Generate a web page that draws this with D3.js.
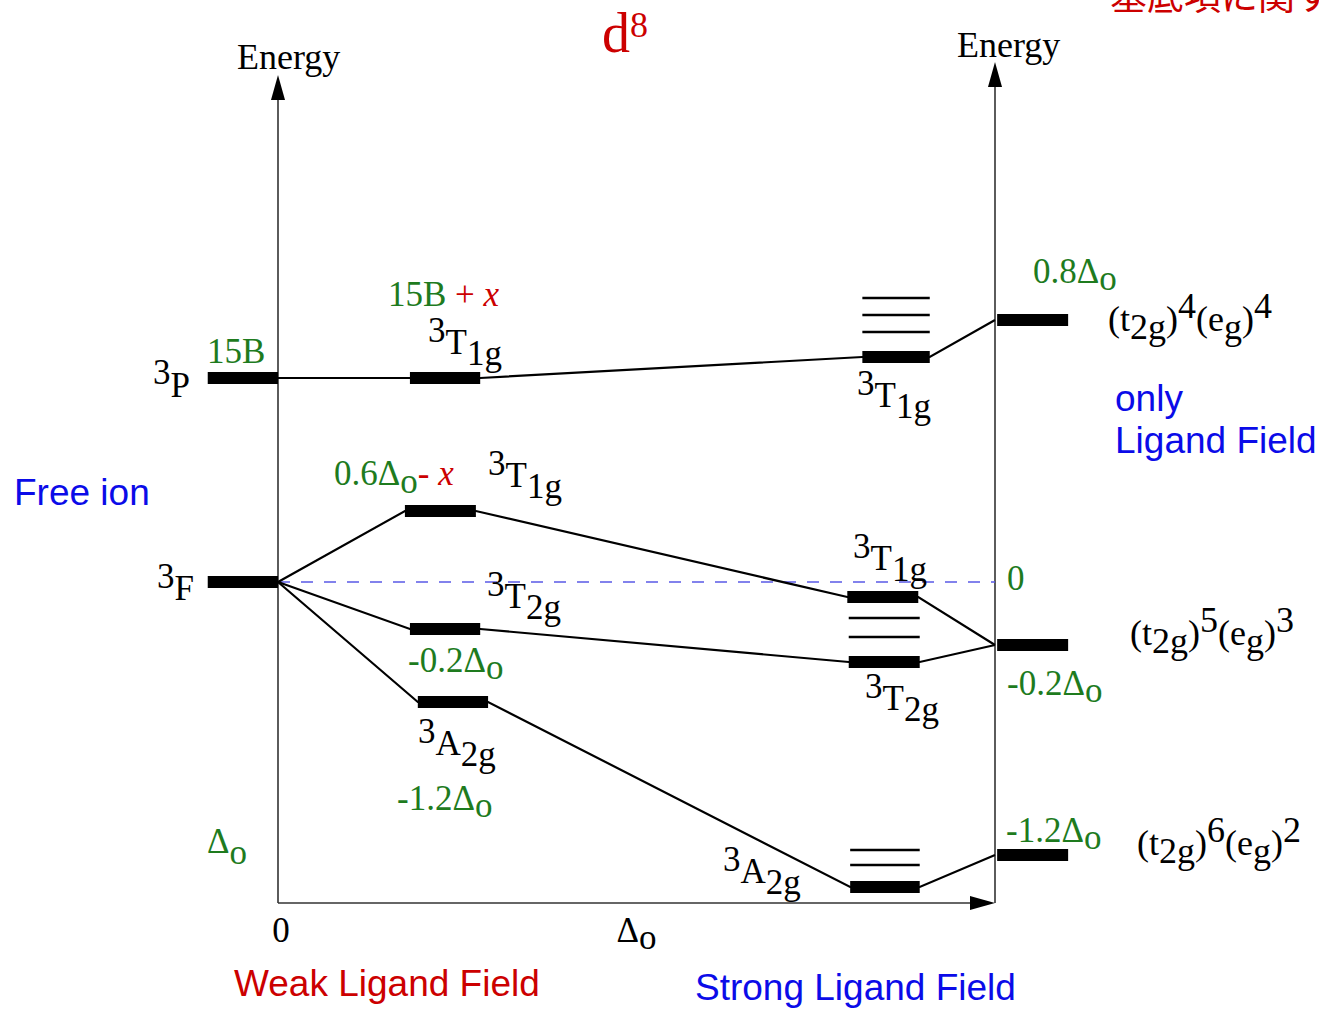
<!DOCTYPE html>
<html>
<head>
<meta charset="utf-8">
<script src="https://cdn.jsdelivr.net/npm/d3@7"></script>
<style>
  html, body { margin: 0; padding: 0; background: #fff; overflow: hidden; }
  svg { display: block; }
</style>
</head>
<body>
<svg id="chart" width="1319" height="1009"></svg>
<script>
// free ion terms (energy in diagram units, 3F = 0)
const freeTerms = ["^{3}P", "^{3}F"];
const freeEnergy = [2.04, 0];

// weak field states
const weakStates = ["^{3}T_{1g}", "^{3}T_{1g}", "^{3}T_{2g}", "^{3}A_{2g}"];
const weakEnergy = [2.04, 0.71, -0.47, -1.20];
const weakParent = [0, 1, 1, 1];

// strong field states
const strongEnergy = [2.25, -0.15, -0.80, -3.05];
const strongConfig = [0, 1, 1, 2];

// other strong field levels (thin lines), and the state they sit by
const extraEnergy = [2.84, 2.67, 2.50, -0.36, -0.55, -2.68, -2.83];
const extraGroup = [0, 0, 0, 2, 2, 3, 3];

// strong field configurations
const configs = ["(t_{2g})^{4}(e_{g})^{4}", "(t_{2g})^{5}(e_{g})^{3}", "(t_{2g})^{6}(e_{g})^{2}"];
const configEnergy = [2.62, -0.63, -2.73];
const configSplit = ["0.8Δ_{o}", "-0.2Δ_{o}", "-1.2Δ_{o}"];

// bottom axis ticks
const tickLabels = ["0", "Δ_{o}"];
const tickValues = [0, 0.5];

// ---- layout ----
const svg = d3.select("#chart");
const x = d3.scaleLinear().domain([0, 1]).range([278, 995]);
const y = d3.scaleLinear().domain([-3.21, 5.07]).range([903, 75]);

const serif = "'Liberation Serif','Times New Roman',serif";
const sans = "'Liberation Sans',Arial,sans-serif";
const green = "#1e7b1e", red = "#cc0000", blue = "#0b0be8";

// bar spans in field units
const freeSpan = [-0.098, 0];
const weakSpan = [[0.184, 0.282], [0.177, 0.276], [0.184, 0.282], [0.195, 0.293]];
const strongSpan = [[0.815, 0.909], [0.794, 0.893], [0.796, 0.895], [0.798, 0.895]];
const configSpan = [1.003, 1.102];

// text with ^{sup} and _{sub} parts
function rich(px, py, str, opt) {
  opt = opt || {};
  const size = opt.size || 35;
  const t = svg.append("text")
    .attr("x", px).attr("y", py)
    .style("font-family", opt.font || serif)
    .style("font-size", size + "px")
    .attr("fill", opt.color || "#000");
  if (opt.anchor) t.attr("text-anchor", opt.anchor);
  const tokens = str.match(/\^\{[^}]*\}|_\{[^}]*\}|[^^_]+/g);
  let off = 0;
  tokens.forEach(tok => {
    let target = 0, txt = tok, small = false;
    if (tok[0] === "^") { target = -(opt.sup || 12); txt = tok.slice(2, -1); small = true; }
    if (tok[0] === "_") { target = (opt.sub || 10); txt = tok.slice(2, -1); small = true; }
    const ts = t.append("tspan").attr("dy", target - off).text(txt);
    if (small && opt.small) ts.style("font-size", opt.small + "px");
    off = target;
  });
  return t;
}

function plain(px, py, str, color) {
  return svg.append("text").attr("x", px).attr("y", py)
    .style("font-family", sans).style("font-size", "37px")
    .attr("fill", color).text(str);
}

// ---- axes ----
const axisColor = "#333";
svg.append("line")
  .attr("x1", x(0)).attr("x2", x(0)).attr("y1", y(-3.21)).attr("y2", y(4.9))
  .attr("stroke", axisColor).attr("stroke-width", 1.6);
svg.append("line")
  .attr("x1", x(1)).attr("x2", x(1)).attr("y1", y(-3.21)).attr("y2", y(5.05))
  .attr("stroke", axisColor).attr("stroke-width", 1.6);
svg.append("line")
  .attr("x1", x(0)).attr("x2", x(0.98)).attr("y1", y(-3.21)).attr("y2", y(-3.21))
  .attr("stroke", axisColor).attr("stroke-width", 1.6);

function arrow(tx, ty, dir) {
  // dir: "up" or "right"
  const p = dir === "up"
    ? [[tx, ty], [tx - 7, ty + 25], [tx + 7, ty + 25]]
    : [[tx, ty], [tx - 25, ty - 7], [tx - 25, ty + 7]];
  svg.append("path").attr("d", "M" + p.join("L") + "Z").attr("fill", "#000");
}
arrow(x(0), y(5.07), "up");
arrow(x(1), y(5.2), "up");
arrow(x(1), y(-3.21), "right");

// zero energy reference
svg.append("line")
  .attr("x1", x(0)).attr("x2", x(1)).attr("y1", y(0)).attr("y2", y(0))
  .attr("stroke", "#5a5ae6").attr("stroke-width", 1.5)
  .attr("stroke-dasharray", "12,11");

// ---- correlation lines ----
const lineG = svg.append("g").attr("stroke", "#000").attr("stroke-width", 2.2).attr("fill", "none");
weakEnergy.forEach((e, i) => {
  const pts = [
    [x(freeSpan[1]), y(freeEnergy[weakParent[i]])],
    [x(weakSpan[i][0]), y(e)],
    [x(weakSpan[i][1]), y(e)],
    [x(strongSpan[i][0]), y(strongEnergy[i])],
    [x(strongSpan[i][1]), y(strongEnergy[i])],
    [x(1), y(configEnergy[strongConfig[i]])]
  ];
  lineG.append("path").attr("d", d3.line()(pts));
});

// ---- levels ----
const barH = 12;
function bar(x0, x1, e) {
  svg.append("rect")
    .attr("x", x(x0)).attr("width", x(x1) - x(x0))
    .attr("y", y(e) - barH / 2).attr("height", barH)
    .attr("fill", "#000");
}
freeEnergy.forEach(e => bar(freeSpan[0], freeSpan[1], e));
weakEnergy.forEach((e, i) => bar(weakSpan[i][0], weakSpan[i][1], e));
strongEnergy.forEach((e, i) => bar(strongSpan[i][0], strongSpan[i][1], e));
configEnergy.forEach(e => bar(configSpan[0], configSpan[1], e));
extraEnergy.forEach((e, i) => {
  const s = strongSpan[extraGroup[i]];
  svg.append("line")
    .attr("x1", x(s[0])).attr("x2", x(s[1])).attr("y1", y(e)).attr("y2", y(e))
    .attr("stroke", "#000").attr("stroke-width", 2.6);
});

// ---- labels ----
// free ion
rich(153, 397, freeTerms[0], { sup: 13 });
rich(157, 600, freeTerms[1], { sup: 12 });
rich(207, 363, "15B", { color: green });
rich(207, 853, "Δ_{o}", { color: green, sub: 11 });
plain(14, 505, "Free ion", blue);

// weak field
const t15 = rich(388, 306, "15B", { color: green });
t15.append("tspan").attr("fill", red).text(" + ");
t15.append("tspan").attr("fill", red).style("font-style", "italic").text("x");
rich(428, 354, weakStates[0], { sup: 12, sub: 11 });
const t06 = rich(334, 485, "0.6Δ_{o}", { color: green, sub: 8 });
t06.append("tspan").attr("dy", -8).attr("fill", red).text("- ");
t06.append("tspan").attr("fill", red).style("font-style", "italic").text("x");
rich(488, 487, weakStates[1], { sup: 12, sub: 11 });
rich(487, 608, weakStates[2], { sup: 12, sub: 11 });
rich(408, 672, "-0.2Δ_{o}", { color: green, sub: 7 });
rich(418, 755, weakStates[3], { sup: 12, sub: 11 });
rich(397, 810, "-1.2Δ_{o}", { color: green, sub: 7 });

// strong field
rich(857, 407, weakStates[0], { sup: 12, sub: 11 });
rich(853, 570, weakStates[1], { sup: 12, sub: 11 });
rich(865, 710, weakStates[2], { sup: 12, sub: 11 });
rich(723, 883, weakStates[3], { sup: 12, sub: 11 });

// configurations
const splitPos = [[1033, 283], [1007, 695], [1006, 842]];
configSplit.forEach((s, i) => rich(splitPos[i][0], splitPos[i][1], s, { color: green, sub: 7 }));
const cfgPos = [[1108, 331], [1130, 645], [1137, 855]];
configs.forEach((s, i) => rich(cfgPos[i][0], cfgPos[i][1], s, { sup: 13, sub: 8, size: 36 }));
rich(1007, 590, "0", { color: green });
plain(1115, 411, "only", blue);
plain(1115, 453, "Ligand Field", blue);

// axis ticks and titles
tickLabels.forEach((s, i) =>
  rich(x(tickValues[i]) + (i === 0 ? 3 : 0), 942, s, { anchor: "middle", sub: 7 }));
rich(237, 69, "Energy", { size: 36 });
rich(957, 57, "Energy", { size: 36 });
plain(234, 996, "Weak Ligand Field", red);
plain(695, 1000, "Strong Ligand Field", blue);

// title
rich(602, 52, "d^{8}", { color: red, size: 56, sup: 15, small: 36 });
svg.append("text").attr("x", 1110).attr("y", 10)
  .style("font-family", "'Noto Sans CJK JP',sans-serif").style("font-size", "37px")
  .attr("fill", red).text("基底項に関する");
</script>
</body>
</html>
